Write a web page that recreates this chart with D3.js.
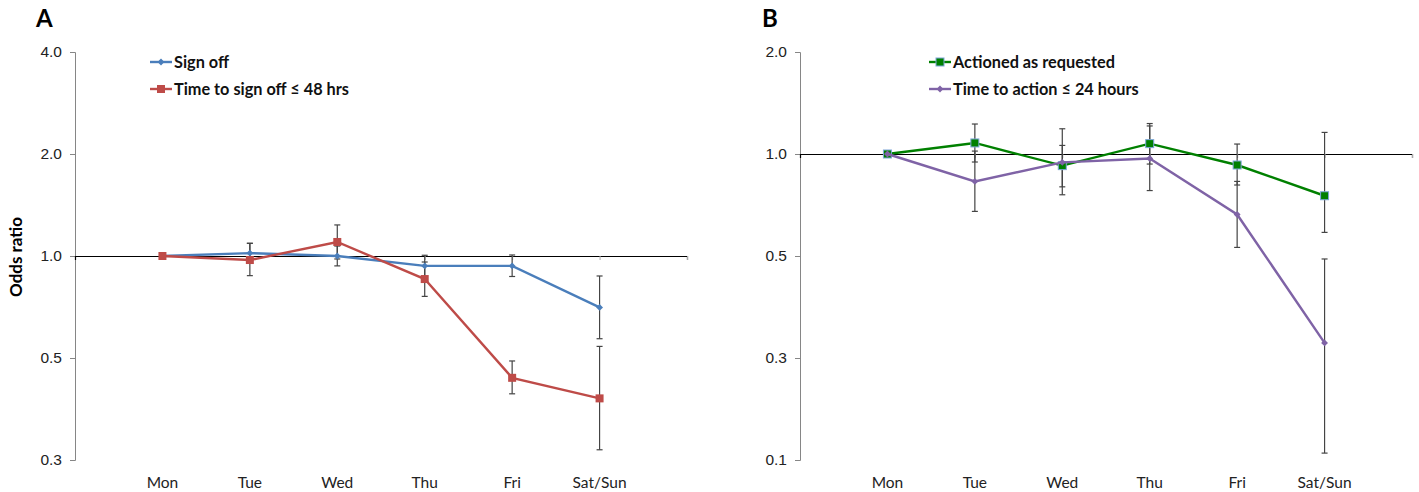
<!DOCTYPE html>
<html>
<head>
<meta charset="utf-8">
<script src="https://cdn.jsdelivr.net/npm/d3@7"></script>
<style>
  body { margin: 0; background: #fff; }
  svg { font-family: Lato, "Open Sans", sans-serif; }
  .tick text { font-size: 15.5px; fill: #222; }
</style>
</head>
<body>
<script>
// days on the x axis
var days = ["Mon", "Tue", "Wed", "Thu", "Fri", "Sat/Sun"];

// panel A: odds ratios and CI
var signOff = [1.0, 1.02, 1.0, 0.935, 0.935, 0.705];
var signOffLo = [null, 0.99, 0.935, 0.87, 0.87, 0.57];
var signOffHi = [null, 1.09, 1.07, 1.005, 1.007, 0.873];

var signOff48 = [1.0, 0.973, 1.10, 0.855, 0.437, 0.38];
var signOff48Lo = [null, 0.875, 0.98, 0.76, 0.392, 0.268];
var signOff48Hi = [null, 1.09, 1.235, 0.96, 0.49, 0.541];

// panel B
var actioned = [1.0, 1.078, 0.924, 1.073, 0.928, 0.753];
var actionedLo = [null, 0.947, 0.80, 0.934, 0.81, 0.587];
var actionedHi = [null, 1.226, 1.187, 1.23, 1.07, 1.158];

var action24 = [1.0, 0.83, 0.945, 0.97, 0.663, 0.277];
var action24Lo = [null, 0.677, 0.758, 0.78, 0.53, 0.131];
var action24Hi = [null, 1.02, 1.06, 1.21, 0.83, 0.49];

var ticksA = [0.25, 0.5, 1, 2, 4];
var ticksB = [0.125, 0.25, 0.5, 1, 2];

var svg = d3.select("body").append("svg")
    .attr("width", 1419)
    .attr("height", 492);

function drawPanel(opt) {
    var g = svg.append("g");

    var x = d3.scaleLinear().domain([0, 7]).range([opt.left, opt.left + 612]);
    var y = d3.scaleLog().base(2).domain(opt.domain).range([460, 52]);

    // y axis
    var yAxis = d3.axisLeft(y).tickValues(opt.ticks)
        .tickFormat(d3.format(".1f")).tickSize(5).tickPadding(8);
    var ya = g.append("g").attr("transform", "translate(" + opt.left + ",0)").call(yAxis);
    ya.select(".domain").attr("stroke", "#868686");
    ya.selectAll(".tick line").attr("stroke", "#868686");

    // x axis at odds ratio 1
    var xAxis = d3.axisBottom(x).tickValues([1, 2, 3, 4, 5, 6, 7])
        .tickFormat("").tickSizeOuter(0).tickSize(4);
    var xa = g.append("g").attr("transform", "translate(0," + y(1) + ")").call(xAxis);
    xa.select(".domain").attr("stroke", "#000").attr("stroke-width", 1.2);
    xa.selectAll(".tick line").attr("stroke", "#aaa");

    // day labels
    g.selectAll(".day").data(days).enter().append("text")
        .attr("class", "day")
        .attr("x", function(d, i) { return x(i + 1); })
        .attr("y", 488)
        .attr("text-anchor", "middle")
        .style("font-size", "15.5px")
        .attr("fill", "#222")
        .text(function(d) { return d; });

    var line = d3.line()
        .x(function(d, i) { return x(i + 1); })
        .y(function(d) { return y(d); });

    opt.series.forEach(function(s) {
        // error bars
        var eb = g.append("g");
        s.lo.forEach(function(lo, i) {
            if (lo === null) return;
            var cx = x(i + 1);
            eb.append("line").attr("x1", cx).attr("x2", cx)
                .attr("y1", y(lo)).attr("y2", y(s.hi[i]));
            eb.append("line").attr("x1", cx - 3).attr("x2", cx + 3)
                .attr("y1", y(lo)).attr("y2", y(lo));
            eb.append("line").attr("x1", cx - 3).attr("x2", cx + 3)
                .attr("y1", y(s.hi[i])).attr("y2", y(s.hi[i]));
        });
        eb.selectAll("line").attr("stroke", "#444").attr("stroke-width", 1.2);
    });

    opt.series.forEach(function(s) {
        g.append("path").datum(s.values)
            .attr("fill", "none")
            .attr("stroke", s.color)
            .attr("stroke-width", 2.4)
            .attr("d", line);
        drawMarkers(g, s, x, y);
    });

    // legend
    opt.series.forEach(function(s, i) {
        var ly = 62 + i * 27;
        var lg = g.append("g");
        lg.append("line").attr("x1", opt.legendX).attr("x2", opt.legendX + 22)
            .attr("y1", ly).attr("y2", ly)
            .attr("stroke", s.color).attr("stroke-width", 2.4);
        drawMarker(lg, s, opt.legendX + 11, ly);
        lg.append("text").attr("x", opt.legendX + 24).attr("y", ly + 5.5)
            .style("font-size", "16.3px").style("font-weight", "bold")
            .attr("fill", "#111")
            .text(s.name);
    });

    // panel letter
    g.append("text").attr("x", opt.letterX).attr("y", 27)
        .style("font-size", "24px").style("font-weight", "bold")
        .text(opt.letter);
}

function drawMarker(g, s, cx, cy) {
    if (s.shape === "square") {
        g.append("rect").attr("x", cx - 4).attr("y", cy - 4)
            .attr("width", 8).attr("height", 8)
            .attr("fill", s.color)
            .attr("stroke", s.edge || s.color).attr("stroke-width", s.edge ? 1 : 0);
    } else {
        g.append("path").attr("d", d3.symbol(d3.symbolDiamond2, 30)())
            .attr("transform", "translate(" + cx + "," + cy + ")")
            .attr("fill", s.color);
    }
}

function drawMarkers(g, s, x, y) {
    s.values.forEach(function(v, i) {
        drawMarker(g, s, x(i + 1), y(v));
    });
}

drawPanel({
    letter: "A", letterX: 36, left: 75, legendX: 150,
    domain: [0.25, 4], ticks: ticksA,
    series: [
        { name: "Sign off", values: signOff, lo: signOffLo, hi: signOffHi, color: "#4A7EBB", shape: "diamond" },
        { name: "Time to sign off \u2264 48 hrs", values: signOff48, lo: signOff48Lo, hi: signOff48Hi, color: "#BE4B48", shape: "square" }
    ]
});

drawPanel({
    letter: "B", letterX: 762, left: 800, legendX: 929,
    domain: [0.125, 2], ticks: ticksB,
    series: [
        { name: "Actioned as requested", values: actioned, lo: actionedLo, hi: actionedHi, color: "#008000", shape: "square", edge: "#7EA6D8" },
        { name: "Time to action \u2264 24 hours", values: action24, lo: action24Lo, hi: action24Hi, color: "#7F63A6", shape: "diamond" }
    ]
});

// y axis title
svg.append("text")
    .attr("transform", "translate(22,257) rotate(-90)")
    .attr("text-anchor", "middle")
    .style("font-size", "17px").style("font-weight", "bold")
    .text("Odds ratio");
</script>
</body>
</html>
